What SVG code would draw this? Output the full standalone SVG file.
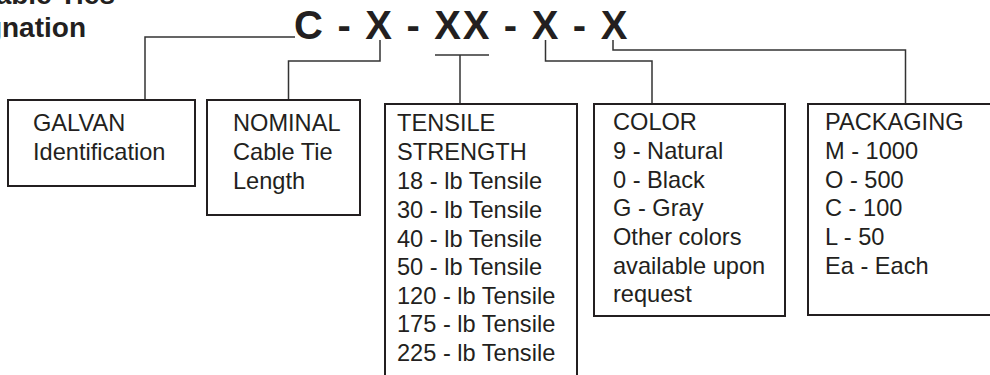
<svg xmlns="http://www.w3.org/2000/svg" width="990" height="375" viewBox="0 0 990 375">
<style>
.title{font-family:"Liberation Sans",Arial,sans-serif;font-weight:bold;font-size:28px;fill:#231f20}
.code{font-family:"Liberation Sans",Arial,sans-serif;font-weight:bold;font-size:40px;fill:#231f20;letter-spacing:1.7px}
.box{fill:#fff;stroke:#231f20;stroke-width:2}
.t{font-family:"Liberation Sans",Arial,sans-serif;font-size:23.6px;fill:#231f20}
.conn{fill:none;stroke:#333;stroke-width:1.5}
</style>
<rect width="990" height="375" fill="#fff"/>
<g id="title">
<text class="title" x="115" y="4" text-anchor="end">Cable Ties</text>
<text class="title" x="86" y="37" text-anchor="end">Designation</text>
</g>
<g id="code">
<text class="code" x="294" y="39">C - X - XX - X - X</text>
</g>
<g id="connectors">
<polyline class="conn" points="295,37 145,37 145,100"/>
<polyline class="conn" points="380,40 380,61 288.5,61 288.5,100"/>
<line class="conn" x1="435" y1="55" x2="489" y2="55"/>
<line class="conn" x1="460" y1="55" x2="460" y2="104"/>
<polyline class="conn" points="545.5,40 545.5,61 652,61 652,104"/>
<polyline class="conn" points="613,40 613,50 905.5,50 905.5,104"/>
</g>
<g id="galvan">
<rect class="box" x="8" y="100" width="187" height="86"/>
<text class="t" x="33" y="131">GALVAN</text>
<text class="t" x="33" y="160">Identification</text>
</g>
<g id="nominal">
<rect class="box" x="207" y="100" width="153" height="115"/>
<text class="t" x="233" y="131">NOMINAL</text>
<text class="t" x="233" y="160">Cable Tie</text>
<text class="t" x="233" y="189">Length</text>
</g>
<g id="tensile">
<rect class="box" x="385" y="104" width="192" height="285"/>
<text class="t" x="397" y="131">TENSILE</text>
<text class="t" x="397" y="160">STRENGTH</text>
<text class="t" x="397" y="189">18 - lb Tensile</text>
<text class="t" x="397" y="217.5">30 - lb Tensile</text>
<text class="t" x="397" y="246.5">40 - lb Tensile</text>
<text class="t" x="397" y="275">50 - lb Tensile</text>
<text class="t" x="397" y="303.5">120 - lb Tensile</text>
<text class="t" x="397" y="332">175 - lb Tensile</text>
<text class="t" x="397" y="360.5">225 - lb Tensile</text>
</g>
<g id="color">
<rect class="box" x="594" y="104" width="191" height="212"/>
<text class="t" x="613" y="130">COLOR</text>
<text class="t" x="613" y="159">9 - Natural</text>
<text class="t" x="613" y="187.5">0 - Black</text>
<text class="t" x="613" y="216">G - Gray</text>
<text class="t" x="613" y="245">Other colors</text>
<text class="t" x="613" y="273.5">available upon</text>
<text class="t" x="613" y="302">request</text>
</g>
<g id="packaging">
<rect class="box" x="808" y="104" width="200" height="211"/>
<text class="t" x="825" y="130">PACKAGING</text>
<text class="t" x="825" y="159">M - 1000</text>
<text class="t" x="825" y="187.5">O - 500</text>
<text class="t" x="825" y="216">C - 100</text>
<text class="t" x="825" y="245">L - 50</text>
<text class="t" x="825" y="273.5">Ea - Each</text>
</g>
</svg>
